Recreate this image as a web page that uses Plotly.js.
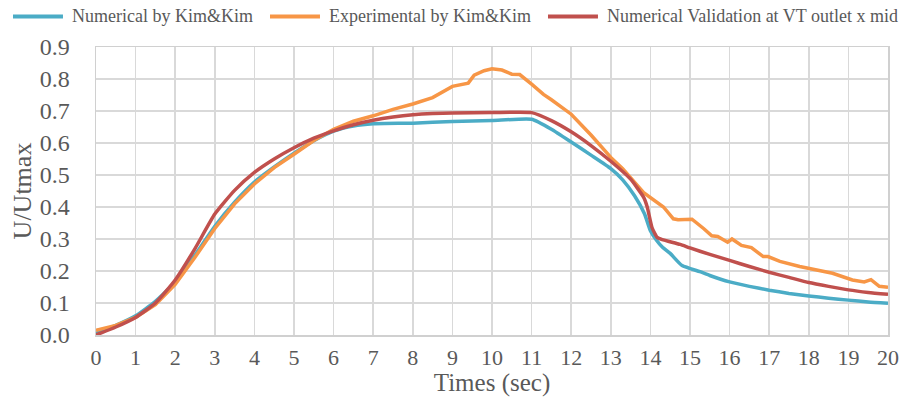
<!DOCTYPE html>
<html>
<head>
<meta charset="utf-8">
<script src="https://cdn.plot.ly/plotly-3.0.1.min.js"></script>
<style>html,body{margin:0;padding:0;background:#fff;}#chart{width:908px;height:397px;}</style>
</head>
<body>
<div id="chart"></div>
<script>
const seriesNames = ["Numerical by Kim&Kim", "Experimental by Kim&Kim", "Numerical Validation at VT outlet x mid"];
const seriesColors = ["#4bacc6", "#f79646", "#c0504d"];

const tNumKim = [0,0.5,1,1.5,2,2.5,3,3.5,4,4.5,5,5.5,6,6.5,7,8,9,10,11,11.5,12,12.5,13,13.3,13.6,13.85,14,14.15,14.3,14.5,14.8,15.25,15.5,16,16.5,17,17.5,18,18.5,19,19.5,20];
const uNumKim = [0.005,0.03,0.06,0.105,0.165,0.25,0.34,0.415,0.478,0.525,0.568,0.607,0.637,0.653,0.66,0.662,0.667,0.67,0.674,0.643,0.603,0.562,0.52,0.485,0.435,0.379,0.326,0.297,0.275,0.255,0.217,0.198,0.186,0.166,0.152,0.14,0.13,0.122,0.115,0.109,0.103,0.099];

const tExpKim = [0,0.5,1,1.5,2,2.5,3,3.5,4,4.5,5,5.5,6,6.5,7,7.5,8,8.5,9,9.4,9.55,9.8,10,10.25,10.5,10.7,11,11.3,11.5,12,12.5,12.75,13,13.3,13.83,14.33,14.58,14.7,15.05,15.35,15.55,15.7,15.95,16.06,16.3,16.55,16.85,16.97,17.27,17.77,18.12,18.6,19.1,19.4,19.57,19.78,20];
const uExpKim = [0.015,0.03,0.055,0.095,0.158,0.243,0.333,0.41,0.472,0.523,0.565,0.608,0.643,0.668,0.685,0.705,0.722,0.742,0.777,0.787,0.812,0.826,0.832,0.828,0.815,0.814,0.784,0.752,0.735,0.69,0.625,0.59,0.555,0.52,0.445,0.40,0.363,0.36,0.362,0.332,0.31,0.308,0.29,0.30,0.28,0.273,0.245,0.245,0.23,0.214,0.204,0.193,0.172,0.166,0.173,0.152,0.149];

const tValid = [0,0.5,1,1.5,2,2.5,3,3.5,4,4.5,5,5.5,6,6.5,7,7.5,8,8.5,9,10,11,11.5,12,12.5,13,13.5,13.83,13.92,14.04,14.17,14.3,14.75,15,15.5,16,16.5,17,17.5,18,18.5,19,19.5,20];
const uValid = [0,0.025,0.055,0.1,0.172,0.27,0.378,0.452,0.508,0.55,0.585,0.615,0.638,0.657,0.671,0.681,0.688,0.692,0.694,0.695,0.695,0.67,0.635,0.592,0.543,0.487,0.43,0.40,0.336,0.305,0.298,0.283,0.272,0.252,0.233,0.214,0.196,0.18,0.164,0.152,0.141,0.133,0.127];

const xTicks = [0,1,2,3,4,5,6,7,8,9,10,11,12,13,14,15,16,17,18,19,20];
const yTicks = [0,0.1,0.2,0.3,0.4,0.5,0.6,0.7,0.8,0.9];

const font = "Liberation Serif";
const grey = "#595959";

const traces = [
  {x: tNumKim, y: uNumKim, name: seriesNames[0], mode: "lines", line: {color: seriesColors[0], width: 3.5, shape: "spline", smoothing: 0.5}},
  {x: tExpKim, y: uExpKim, name: seriesNames[1], mode: "lines", line: {color: seriesColors[1], width: 3.5}},
  {x: tValid, y: uValid, name: seriesNames[2], mode: "lines", line: {color: seriesColors[2], width: 3.5, shape: "spline", smoothing: 0.5}}
];

const legendLineX = [[-0.1048, -0.0417], [0.2197, 0.2828], [0.5707, 0.6338]];
const legendTextX = [-0.0328, 0.2917, 0.6427];
const legendY = 1.106;
const shapes = legendLineX.map((p, i) => ({
  type: "line", xref: "paper", yref: "paper", x0: p[0], x1: p[1], y0: legendY, y1: legendY,
  line: {color: seriesColors[i], width: 4}
}));
const annotations = legendTextX.map((x, i) => ({
  xref: "paper", yref: "paper", x: x, y: legendY, xanchor: "left", yanchor: "middle",
  text: seriesNames[i], showarrow: false, font: {family: font, size: 18, color: grey}
}));

const layout = {
  width: 908, height: 397,
  margin: {l: 96, r: 20, t: 47, b: 62},
  paper_bgcolor: "#fff", plot_bgcolor: "#fff",
  font: {family: font, color: grey, size: 20},
  showlegend: false,
  shapes: shapes,
  annotations: annotations,
  xaxis: {
    range: [0, 20], tickvals: xTicks, ticktext: xTicks.map(String),
    showgrid: true, gridcolor: "#d9d9d9", gridwidth: 1.5,
    showline: true, linecolor: "#d0d0d0", linewidth: 1.5, mirror: true,
    ticks: "", zeroline: false, ticklabelstandoff: 2,
    tickfont: {family: font, size: 22, color: grey},
    title: {text: "Times (sec)", font: {family: font, size: 25, color: grey}, standoff: 3}
  },
  yaxis: {
    range: [0, 0.9], tickvals: yTicks, ticktext: yTicks.map(v => v.toFixed(1)),
    showgrid: true, gridcolor: "#d9d9d9", gridwidth: 1.5,
    showline: true, linecolor: "#d0d0d0", linewidth: 1.5, mirror: true,
    ticks: "", zeroline: false, ticklabelstandoff: 20,
    tickfont: {family: font, size: 24, color: grey},
    title: {text: "U/Utmax", font: {family: font, size: 26, color: grey}, standoff: 0}
  }
};

Plotly.newPlot("chart", traces, layout, {displayModeBar: false, staticPlot: true});
</script>
</body>
</html>
